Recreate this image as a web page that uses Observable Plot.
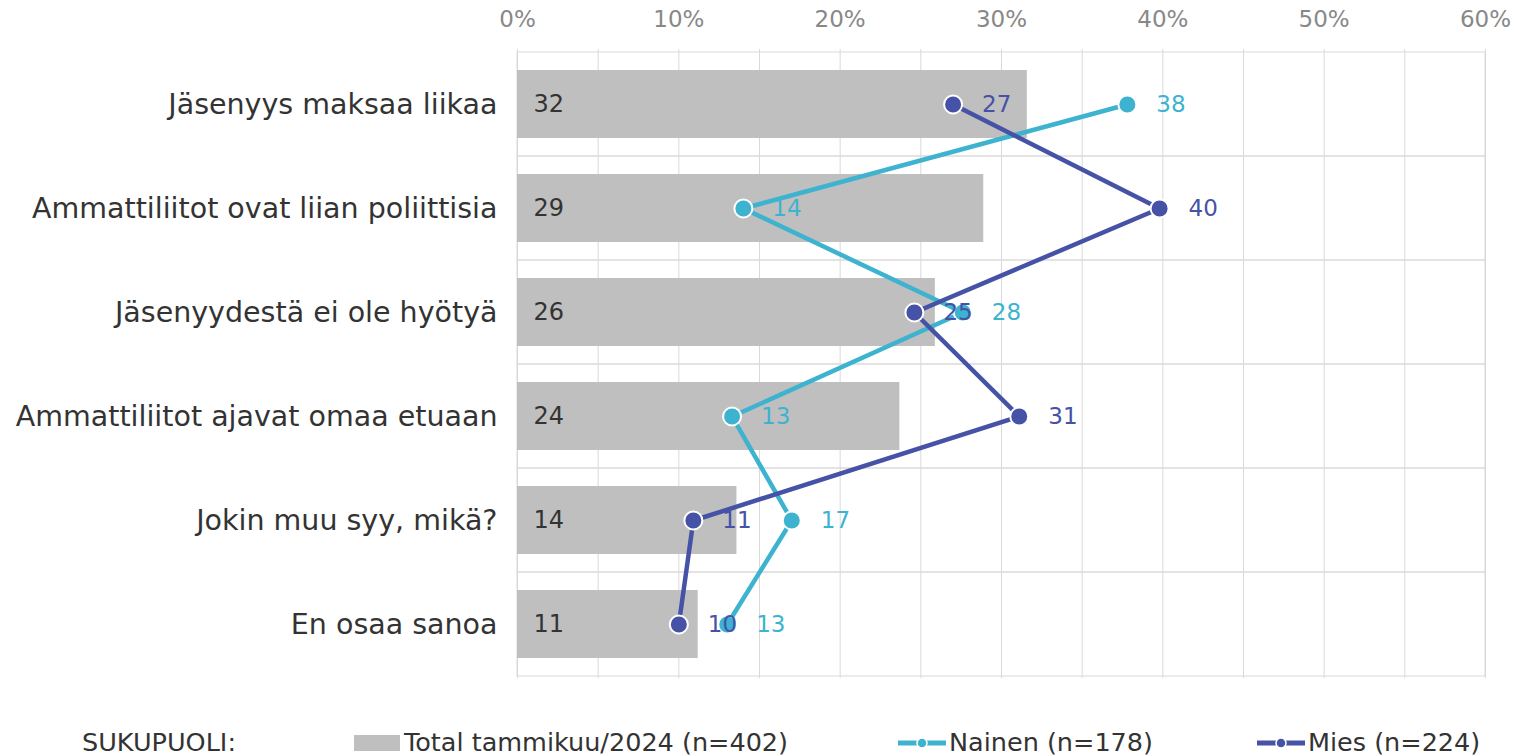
<!DOCTYPE html>
<html>
<head>
<meta charset="utf-8">
<script src="https://cdn.jsdelivr.net/npm/d3@7"></script>
<script src="https://cdn.jsdelivr.net/npm/@observablehq/plot@0.6"></script>
<style>
  body { margin: 0; background: #fff; font-family: "DejaVu Sans", Verdana, sans-serif; }
  #wrap { position: relative; width: 1517px; height: 756px; }
  #legend { position: absolute; top: 727px; left: 0; width: 1517px; height: 30px; font-size: 25.5px; color: #333; }
  #legend .item { position: absolute; top: 0; display: flex; align-items: center; white-space: nowrap; }
</style>
</head>
<body>
<div id="wrap">
  <div id="chart"></div>
  <div id="legend"></div>
</div>
<script>
const categories = [
  "Jäsenyys maksaa liikaa",
  "Ammattiliitot ovat liian poliittisia",
  "Jäsenyydestä ei ole hyötyä",
  "Ammattiliitot ajavat omaa etuaan",
  "Jokin muu syy, mikä?",
  "En osaa sanoa"
];
const total  = [31.6, 28.9, 25.9, 23.7, 13.6, 11.2];
const nainen = [37.8, 14.0, 27.6, 13.3, 17.0, 13.0];
const mies   = [27.0, 39.8, 24.6, 31.1, 10.9, 10.0];
const xTicks = [0, 10, 20, 30, 40, 50, 60];
const gridTicks = [0, 5, 10, 15, 20, 25, 30, 35, 40, 45, 50, 55, 60];
const seriesNames = ["Total tammikuu/2024 (n=402)", "Nainen (n=178)", "Mies (n=224)"];
const legendTitle = "SUKUPUOLI:";

const cGray = "#bfbfbf", cNainen = "#3db3cf", cMies = "#4652a6";

const totalData = categories.map((c, i) => ({cat: c, v: total[i]}));
const nData = categories.map((c, i) => ({cat: c, v: nainen[i]}));
const mData = categories.map((c, i) => ({cat: c, v: mies[i]}));

const chart = Plot.plot({
  width: 1517,
  height: 700,
  marginLeft: 517,
  marginRight: 32,
  marginTop: 49,
  marginBottom: 22,
  style: {fontFamily: "DejaVu Sans, Verdana, sans-serif", background: "#fff"},
  x: {domain: [0, 60], axis: null, label: null},
  y: {domain: categories, padding: 0, axis: null, label: null},
  marks: [
    Plot.ruleX(gridTicks, {stroke: "#d9d9d9", strokeWidth: 1}),
    Plot.barX(categories, {y: d => d, x1: 0, x2: 60, fill: "none", stroke: "#d9d9d9", strokeWidth: 1}),
    Plot.barX(totalData, {y: "cat", x: "v", fill: cGray, insetTop: 18, insetBottom: 18}),
    Plot.text(totalData, {y: "cat", x: 0, text: d => d3.format(".0f")(d.v), dx: 16, textAnchor: "start", fill: "#333", fontSize: 24}),
    Plot.axisX(xTicks, {anchor: "top", label: null, tickSize: 0, tickPadding: 23, tickFormat: d => d + "%", fontSize: 23, fill: "#888"}),
    Plot.axisY({anchor: "left", label: null, tickSize: 0, tickPadding: 20, fontSize: 28.5, fill: "#333"}),
    Plot.line(nData, {y: "cat", x: "v", stroke: cNainen, strokeWidth: 4.5}),
    Plot.line(mData, {y: "cat", x: "v", stroke: cMies, strokeWidth: 4.5}),
    Plot.dot(nData, {y: "cat", x: "v", r: 9, fill: cNainen, stroke: "#fff", strokeWidth: 2}),
    Plot.dot(mData, {y: "cat", x: "v", r: 9, fill: cMies, stroke: "#fff", strokeWidth: 2}),
    Plot.text(nData, {y: "cat", x: "v", text: d => d3.format(".0f")(d.v), dx: 29, textAnchor: "start", fill: cNainen, fontSize: 23}),
    Plot.text(mData, {y: "cat", x: "v", text: d => d3.format(".0f")(d.v), dx: 29, textAnchor: "start", fill: cMies, fontSize: 23})
  ]
});
document.getElementById("chart").appendChild(chart);

// Legend
const legend = document.getElementById("legend");
function addItem(left, swatchSvg, label) {
  const d = document.createElement("div");
  d.className = "item";
  d.style.left = left + "px";
  d.innerHTML = swatchSvg + `<span>${label}</span>`;
  legend.appendChild(d);
}
addItem(82, "", legendTitle);
addItem(354, `<svg width="50" height="22"><rect x="0" y="4" width="46" height="16" fill="${cGray}"/></svg>`, seriesNames[0]);
addItem(897, `<svg width="52" height="22"><line x1="1" y1="12" x2="49" y2="12" stroke="${cNainen}" stroke-width="5"/><circle cx="25" cy="12" r="5" fill="${cNainen}" stroke="#fff" stroke-width="1.5"/></svg>`, seriesNames[1]);
addItem(1256, `<svg width="52" height="22"><line x1="1" y1="12" x2="49" y2="12" stroke="${cMies}" stroke-width="5"/><circle cx="25" cy="12" r="5" fill="${cMies}" stroke="#fff" stroke-width="1.5"/></svg>`, seriesNames[2]);
</script>
</body>
</html>
